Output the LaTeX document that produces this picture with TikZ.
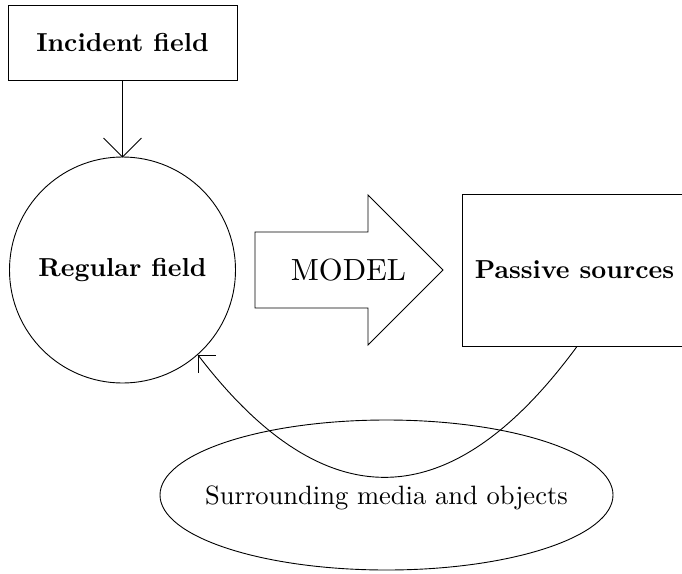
\documentclass[tikz,border=0pt]{standalone}
\usepackage{graphicx}
\usetikzlibrary{shapes.geometric}
\tikzset{
  ln/.style={line width=0.9pt, draw=black},
  boxnode/.style={ln, rectangle, inner sep=0pt},
  txt/.style={inner sep=0pt},
}
\begin{document}
\begin{tikzpicture}[x=1pt,y=-1pt]
\useasboundingbox (0,0) rectangle (682,573);
\clip (0,0) rectangle (682,573);
% Incident field box
\node[boxnode, minimum width=229pt, minimum height=75pt] (inc) at (122.5,42.5)
  {\scalebox{2.6}{\bfseries Incident field}};
% Regular field circle
\node[ln, circle, inner sep=0pt, outer sep=0pt, minimum size=226pt] (rf) at (122.5,270)
  {\scalebox{2.6}{\bfseries Regular field}};
% Passive sources box (right side cut off)
\node[boxnode, minimum width=238pt, minimum height=152pt] (ps) at (581,270) {};
\node[txt] (pstext) at (574.5,270) {\scalebox{2.6}{\bfseries Passive sources}};
% MODEL block arrow
\draw[ln] (255,232) -- (368,232) -- (368,195) -- (443,270) -- (368,345) -- (368,308) -- (255,308) -- cycle;
\node[txt] (model) at (348.5,270) {\scalebox{3.06}{MODEL}};
% Surrounding ellipse
\node[ln, ellipse, inner sep=0pt, minimum width=453pt, minimum height=150pt] (sur) at (386.5,495) {};
\node[txt] (surtext) at (386.5,498) {\scalebox{2.65}{Surrounding media and objects}};
% Arrow incident -> regular
\draw[ln] (inc.south) -- (rf.north);
\draw[ln] (rf.north) -- ++(-19,-19);
\draw[ln] (rf.north) -- ++(19,-19);
% Curved arrow passive -> regular
\coordinate (tip) at (198,355);
\draw[ln] ([xshift=-4pt]ps.south) .. controls (451,518) and (324.7,521) .. (tip);
\draw[ln] (tip) -- ++(18,0);
\draw[ln] (tip) -- ++(0,18);
\end{tikzpicture}
\end{document}
